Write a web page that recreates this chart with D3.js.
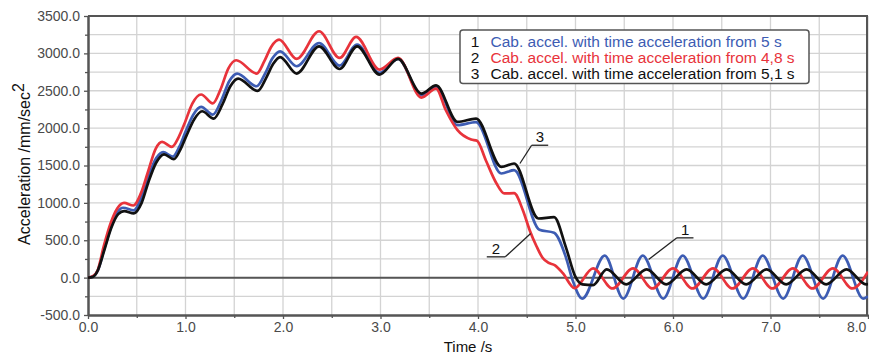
<!DOCTYPE html>
<html><head><meta charset="utf-8">
<script src="https://cdn.jsdelivr.net/npm/d3@7"></script>
<style>body{margin:0;background:#fff}svg{display:block}</style>
</head><body><svg id="c" width="869" height="354"></svg>
<script>
// ---------- data ----------
const xTickValues = [0, 1, 2, 3, 4, 5, 6, 7, 8];
const yTickValues = [-500, 0, 500, 1000, 1500, 2000, 2500, 3000, 3500];
const legendNumbers = ["1", "2", "3"];
const legendLabels = [
  "Cab. accel. with time acceleration from 5 s",
  "Cab. accel. with time acceleration from 4,8 s",
  "Cab. accel. with time acceleration from 5,1 s"
];
const xTitle = "Time /s";
const yTitle = "Acceleration /mm/sec";

// series 1 (blue): time acceleration from 5 s
const series1 = [[0,0],[0.05,15],[0.10,92],[0.17,400],[0.24,690],[0.30,870],[0.36,935],[0.47,900],[0.54,1050],[0.61,1320],[0.70,1600],[0.77,1680],[0.87,1620],[0.94,1760],[1.00,1950],[1.08,2180],[1.16,2283],[1.28,2180],[1.37,2380],[1.45,2630],[1.53,2730],[1.73,2560],[1.82,2740],[1.89,2930],[1.97,3028],[2.14,2828],[2.37,3139],[2.58,2837],[2.76,3117],[2.99,2738],[3.18,2926],[3.42,2440],[3.57,2550],[3.79,2039],[3.98,2080],[4.24,1393],[4.37,1437],[4.63,640],[4.78,600],[4.90,278],[4.97,-33],[5.07,-280],[5.30,295],[5.49,-280],[5.69,295],[5.90,-280],[6.10,295],[6.31,-280],[6.51,295],[6.72,-280],[6.92,295],[7.13,-280],[7.33,295],[7.54,-280],[7.74,295],[7.95,-280],[8.00,-250]];
// series 2 (red): time acceleration from 4,8 s
const series2 = [[0,0],[0.05,20],[0.10,100],[0.16,410],[0.23,720],[0.30,925],[0.37,1000],[0.465,965],[0.54,1120],[0.61,1393],[0.695,1727],[0.76,1816],[0.86,1750],[0.93,1880],[0.99,2061],[1.07,2329],[1.16,2450],[1.28,2330],[1.36,2520],[1.44,2800],[1.52,2908],[1.73,2730],[1.81,2900],[1.88,3090],[1.96,3184],[2.14,2926],[2.37,3296],[2.58,2939],[2.75,3220],[2.99,2783],[3.18,2939],[3.42,2409],[3.57,2529],[3.67,2239],[3.79,1972],[3.93,1847],[3.99,1830],[4.08,1571],[4.19,1259],[4.27,1126],[4.37,1130],[4.46,902],[4.53,635],[4.60,420],[4.66,270],[4.72,200],[4.79,165],[4.87,60],[4.99,-140],[5.18,125],[5.38,-145],[5.59,125],[5.79,-145],[6.00,125],[6.20,-145],[6.41,125],[6.61,-145],[6.82,125],[7.02,-145],[7.23,125],[7.43,-145],[7.64,125],[7.84,-145],[8.00,80]];
// series 3 (black): time acceleration from 5,1 s
const series3 = [[0,0],[0.05,10],[0.10,95],[0.17,380],[0.24,670],[0.31,850],[0.37,890],[0.47,860],[0.55,1000],[0.62,1280],[0.70,1540],[0.78,1650],[0.88,1584],[0.95,1720],[1.01,1900],[1.09,2120],[1.17,2226],[1.29,2128],[1.38,2320],[1.46,2560],[1.54,2663],[1.74,2497],[1.83,2680],[1.90,2860],[1.97,2950],[2.14,2730],[2.37,3094],[2.58,2791],[2.76,3094],[2.99,2717],[3.18,2926],[3.42,2462],[3.57,2573],[3.79,2083],[3.98,2128],[4.24,1481],[4.37,1527],[4.62,791],[4.78,810],[4.90,412],[5.00,10],[5.07,-90],[5.18,-100],[5.32,110],[5.52,-90],[5.73,110],[5.93,-90],[6.14,110],[6.34,-90],[6.55,110],[6.75,-90],[6.96,110],[7.16,-90],[7.37,110],[7.57,-90],[7.78,110],[7.98,-90],[8.00,-88]];

// annotation callouts: [label, underline start t, underline end t, underline v, pointer t, pointer v]
const callouts = [
  ["3", 4.55, 4.72, 1771, 4.43, 1527],
  ["2", 4.09, 4.28, 278, 4.54, 591],
  ["1", 6.04, 6.21, 532, 5.75, 243]
];

// ---------- styles ----------
const colors = ["#3d5cb3", "#e8333b", "#111111"];
const font = "'Liberation Sans', Arial, sans-serif";

// ---------- chart ----------
const svg = d3.select("#c");
const x = d3.scaleLinear().domain([0, 8]).range([88, 868]);
const y = d3.scaleLinear().domain([-500, 3500]).range([315, 16]);

// grid
const g = svg.append("g");
g.selectAll("line.vg").data(d3.range(1, 17).map(i => i * 0.5)).join("line")
  .attr("x1", d => x(d)).attr("x2", d => x(d)).attr("y1", y(3500)).attr("y2", y(-500))
  .attr("stroke", "#d3d3d3").attr("stroke-width", 1.3);
g.selectAll("line.hg").data(d3.range(-1, 14).map(i => i * 250)).join("line")
  .attr("x1", x(0)).attr("x2", x(8)).attr("y1", d => y(d)).attr("y2", d => y(d))
  .attr("stroke", "#d3d3d3").attr("stroke-width", 1.3);

// frame (top, right) and zero line
svg.append("line").attr("x1", x(0)).attr("x2", x(8)).attr("y1", y(3500)).attr("y2", y(3500))
  .attr("stroke", "#555").attr("stroke-width", 2);
svg.append("line").attr("x1", x(8) - 1).attr("x2", x(8) - 1).attr("y1", y(3500)).attr("y2", y(-500))
  .attr("stroke", "#555").attr("stroke-width", 2);
svg.append("line").attr("x1", x(0)).attr("x2", x(8)).attr("y1", y(0)).attr("y2", y(0))
  .attr("stroke", "#555").attr("stroke-width", 2);

// axes
const xAxis = d3.axisBottom(x).tickValues(xTickValues).tickFormat(d => d.toFixed(1)).tickSize(4).tickSizeOuter(0).tickPadding(3);
const xMinor = d3.axisBottom(x).tickValues(d3.range(0, 8, 1).map(v => v + 0.5)).tickFormat("").tickSize(3).tickSizeOuter(0);
const yAxis = d3.axisLeft(y).tickValues(yTickValues).tickFormat(d => d.toFixed(1)).tickSize(4).tickSizeOuter(0).tickPadding(4);
const yMinor = d3.axisLeft(y).tickValues(d3.range(-250, 3500, 500)).tickFormat("").tickSize(3).tickSizeOuter(0);

function styleAxis(sel) {
  sel.select(".domain").attr("stroke", "#555").attr("stroke-width", 2);
  sel.selectAll(".tick line").attr("stroke", "#555").attr("stroke-width", 1.3);
  sel.selectAll(".tick text").attr("fill", "#4a4a4a").style("font-family", font).style("font-size", "14px");
}
svg.append("g").attr("transform", `translate(0,${y(-500)})`).call(xMinor).call(styleAxis);
const xg = svg.append("g").attr("transform", `translate(0,${y(-500)})`).call(xAxis).call(styleAxis);
// keep the last tick label inside the picture
xg.selectAll(".tick text").filter(d => d === 8).attr("text-anchor", "end").attr("dx", "-0.15em");
svg.append("g").attr("transform", `translate(${x(0)},0)`).call(yMinor).call(styleAxis);
svg.append("g").attr("transform", `translate(${x(0)},0)`).call(yAxis).call(styleAxis);

// curves
svg.append("clipPath").attr("id", "clip").append("rect")
  .attr("x", x(0)).attr("y", y(3500)).attr("width", x(8) - x(0)).attr("height", y(-500) - y(3500));
const line = d3.line().x(d => x(d[0])).y(d => y(d[1])).curve(d3.curveMonotoneX);
const allSeries = [series1, series2, series3];
svg.append("g").attr("clip-path", "url(#clip)")
  .selectAll("path").data(allSeries).join("path")
  .attr("d", line).attr("fill", "none")
  .attr("stroke", (d, i) => colors[i]).attr("stroke-width", 2.7)
  .attr("stroke-linejoin", "round");

// callouts
const cg = svg.append("g");
callouts.forEach(c => {
  const [lab, t0, t1, v, tp, vp] = c;
  cg.append("line").attr("x1", x(t0)).attr("x2", x(t1)).attr("y1", y(v)).attr("y2", y(v))
    .attr("stroke", "#222").attr("stroke-width", 1.3);
  const sx = lab === "2" ? x(t1) : x(t0);
  cg.append("line").attr("x1", sx).attr("y1", y(v)).attr("x2", x(tp)).attr("y2", y(vp))
    .attr("stroke", "#222").attr("stroke-width", 1.3);
  cg.append("text").attr("x", (x(t0) + x(t1)) / 2).attr("y", y(v) - 3)
    .attr("text-anchor", "middle").style("font-family", font).style("font-size", "15px")
    .attr("fill", "#111").text(lab);
});

// axis titles
svg.append("text").attr("x", 468).attr("y", 352).attr("text-anchor", "middle")
  .style("font-family", font).style("font-size", "15px").attr("fill", "#111").text(xTitle);
const yt = svg.append("text").attr("transform", "translate(30,164) rotate(-90)")
  .attr("text-anchor", "middle").style("font-family", font).style("font-size", "16px").attr("fill", "#111");
yt.append("tspan").text(yTitle);
yt.append("tspan").attr("dy", "-0.4em").text("2");

// legend
const lg = svg.append("g");
lg.append("rect").attr("x", 460).attr("y", 30).attr("width", 349).attr("height", 53.5).attr("rx", 3)
  .attr("fill", "#fff").attr("stroke", "#555").attr("stroke-width", 1.5);
legendLabels.forEach((lab, i) => {
  const by = 47 + i * 15.8;
  lg.append("text").attr("x", 475).attr("y", by).attr("text-anchor", "middle")
    .style("font-family", font).style("font-size", "15.5px").attr("fill", "#111").text(legendNumbers[i]);
  lg.append("text").attr("x", 490.5).attr("y", by)
    .style("font-family", font).style("font-size", "15.5px").attr("fill", colors[i]).text(lab);
});
</script></body></html>
